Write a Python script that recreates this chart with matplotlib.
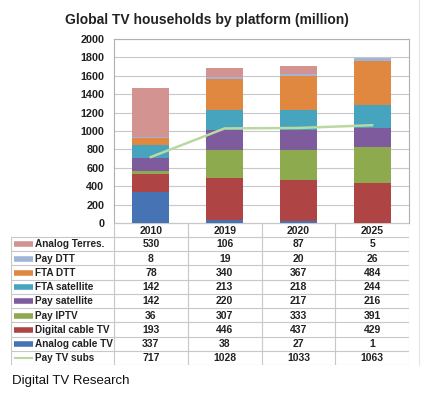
import numpy as np
import matplotlib
matplotlib.use("Agg")
import matplotlib.pyplot as plt

plt.rcParams['font.family'] = ['Liberation Sans', 'DejaVu Sans']

years = ['2010', '2019', '2020', '2025']

# stacked bottom -> top
analog_cable = [337, 38, 27, 1]
digital_cable = [193, 446, 437, 429]
pay_iptv = [36, 307, 333, 391]
pay_sat = [142, 220, 217, 216]
fta_sat = [142, 213, 218, 244]
fta_dtt = [78, 340, 367, 484]
pay_dtt = [8, 19, 20, 26]
analog_terres = [530, 106, 87, 5]
pay_tv_subs = [717, 1028, 1033, 1063]

series = [
    ('Analog cable TV', analog_cable, '#4673B4'),
    ('Digital cable TV', digital_cable, '#AE4444'),
    ('Pay IPTV', pay_iptv, '#8DAA4E'),
    ('Pay satellite', pay_sat, '#7D5B9C'),
    ('FTA satellite', fta_sat, '#47A4BF'),
    ('FTA DTT', fta_dtt, '#E0883F'),
    ('Pay DTT', pay_dtt, '#9FB4D8'),
    ('Analog Terres.', analog_terres, '#D39391'),
]
line_color = '#BBD8A2'

W, H = 426, 393
fig = plt.figure(figsize=(W / 100, H / 100), dpi=100)
fig.patch.set_facecolor('white')

# plot area in pixels
L, R, T, B = 114, 409, 39, 223
ax = fig.add_axes([L / W, 1 - B / H, (R - L) / W, (B - T) / H])

x = np.arange(len(years))
bottom = np.zeros(len(years))
for name, vals, col in series:
    ax.bar(x, vals, 0.5, bottom=bottom, color=col, zorder=3)
    bottom += np.array(vals)
ax.plot(x, pay_tv_subs, color=line_color, lw=1.8, zorder=4)

ax.set_xlim(-0.5, len(years) - 0.5)
ax.set_ylim(0, 2000)
ax.set_yticks(range(0, 2001, 200))
ax.set_xticks([])
ax.grid(axis='y', color='#C8C8C8', lw=0.8, zorder=0)
for s in ax.spines.values():
    s.set_color('#B0B0B0')
    s.set_linewidth(0.8)
ax.tick_params(axis='y', length=0, labelsize=7.8, pad=7)
for lab in ax.get_yticklabels():
    lab.set_fontweight('bold')
    lab.set_color('#222222')

fig.text(207 / W, 1 - 20 / H, 'Global TV households by platform (million)',
         ha='center', va='center', fontsize=10, fontweight='bold', color='#222222')

# data table under the chart
TL, TB = 11, 365
rows = list(reversed(series)) + [('Pay TV subs', pay_tv_subs, line_color)]
tax = fig.add_axes([TL / W, 1 - TB / H, (R - TL) / W, (TB - B) / H])
tax.set_xlim(TL, R)
tax.set_ylim(TB, B)
tax.axis('off')
gc = '#C8C8C8'
head_h = 14
row_top = B + head_h
rh = (TB - row_top) / len(rows)
colw = (R - L) / len(years)

# vertical lines
for i in range(len(years) + 1):
    tax.plot([L + i * colw] * 2, [B, TB], color=gc, lw=0.8)
tax.plot([TL, TL], [row_top, TB], color=gc, lw=0.8)
# horizontal lines
tax.plot([L, R], [B, B], color=gc, lw=0.8)
for j in range(len(rows) + 1):
    tax.plot([TL, R], [row_top + j * rh] * 2, color=gc, lw=0.8)

for i, yr in enumerate(years):
    tax.text(L + (i + 0.5) * colw, B + head_h / 2 + 0.5, yr, ha='center', va='center',
             fontsize=7.5, fontweight='bold', color='#222222')

for j, (name, vals, col) in enumerate(rows):
    yc = row_top + (j + 0.5) * rh + 0.3
    lw = 1.5 if name == 'Pay TV subs' else 4
    tax.plot([14, 33], [yc, yc], color=col, lw=lw, solid_capstyle='butt')
    tax.text(35, yc, name, ha='left', va='center', fontsize=7.2,
             fontweight='bold', color='#222222')
    for i, v in enumerate(vals):
        tax.text(L + (i + 0.5) * colw, yc, str(v), ha='center', va='center',
                 fontsize=7.5, fontweight='bold', color='#222222')

# faint border line at the right of the screenshot
fig.add_artist(plt.Line2D([419 / W, 419 / W], [1 - TB / H, 1], color='#E4E4E4', lw=0.8))

fig.text(12 / W, 1 - 381 / H, 'Digital TV Research', ha='left', va='center',
         fontsize=9.5, color='#111111')

fig.savefig('out.png', dpi=100)
